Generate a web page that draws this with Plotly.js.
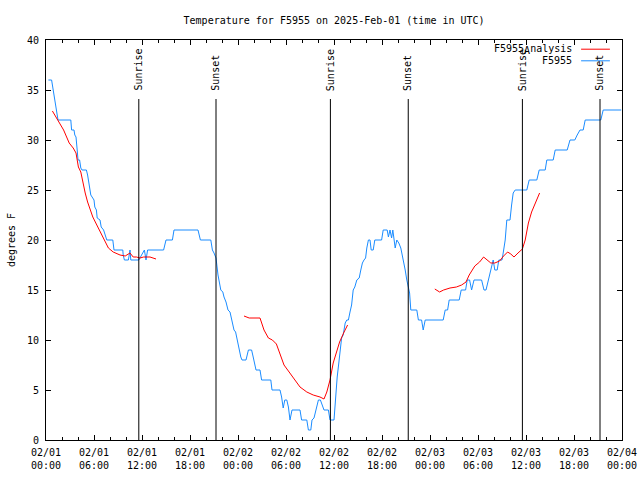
<!DOCTYPE html>
<html>
<head>
<meta charset="utf-8">
<script src="https://cdn.plot.ly/plotly-3.0.1.min.js"></script>
<style>html,body{margin:0;padding:0;background:#fff;}#chart{width:640px;height:480px;}</style>
</head>
<body>
<div id="chart"></div>
<script>
// Hours since 2025-02-01 00:00 UTC
const stationHours = [0.3,0.7,1.5,3.1,3.2,3.5,3.6,3.75,3.9,4.0,4.2,4.35,4.5,5.05,5.2,5.4,5.5,5.6,5.8,6.0,6.1,6.3,6.4,6.75,6.9,7.2,7.4,7.6,8.35,8.5,9.6,9.65,9.8,10.3,10.5,10.6,11.6,11.9,12.3,12.5,12.7,14.7,15.0,15.8,16.0,19.0,19.3,20.6,20.8,21.0,21.25,
21.5,21.75,21.85,22.1,22.25,22.5,22.75,23.0,23.25,23.5,23.7,23.9,24.15,24.35,24.5,25.0,25.3,25.7,25.9,26.1,26.25,26.75,26.95,28.1,28.25,29.25,29.45,29.65,29.85,30.1,30.3,30.5,30.6,30.75,31.75,31.95,32.6,32.8,33.1,33.25,33.5,33.75,34.05,34.3,34.75,35.3,35.5,36.0,36.2,36.4,36.6,36.75,36.95,37.15,37.4,37.6,37.8,38.0,38.2,38.4,38.6,38.85,39.15,39.35,39.55,39.75,39.95,40.1,40.3,40.5,40.65,40.9,41.1,41.95,42.15,42.65,42.8,43.0,43.2,43.35,43.5,43.65,43.85,44.1,44.35,44.6,44.9,45.1,45.3,45.45,45.6,46.35,46.55,46.95,47.15,47.4,49.65,49.9,50.2,50.4,51.65,51.9,52.45,52.65,52.95,53.2,53.5,54.45,54.75,55.0,55.3,55.6,55.9,56.1,56.4,56.6,57.0,57.15,57.4,57.6,58.0,58.2,58.4,58.65,60.1,60.4,61.35,61.65,62.4,62.6,63.4,63.65,65.15,65.5,66.1,66.4,66.75,67.15,67.4,69.35,69.65,71.9];
const stationTemps = [36,36,32,32,31,31,30.5,30.3,29,28,28,27.2,27,27,26.5,25.7,25,24.5,24.2,24,23.3,23,22.2,22,21.3,21,20.5,20,20,19,19,18.5,18,18,19,18,18,18.5,19,18,19,19,20,20,21,21,20,20,19,18.7,18.2,
16.5,15.5,15,14.8,14.3,13.8,13,12.8,11.7,11,10.8,10,9.2,8.3,8,8,9,9,8.3,7.3,7,7,6,6,5,5,4.3,3.2,4,4,3.3,2,2.5,3,3,2,2,1,1,2,2.2,3,4,4,3,3,2,2,4.5,6.3,7.7,8.8,10.2,10.5,11.7,12,12,12.8,13.5,15,15.3,16,16.2,17,17.7,18,18.2,19.2,20,20,19,19,20,20,21,21,20.3,21,20.2,21,20,19.2,20,19.7,19.2,18.3,17,16,15.3,14.7,13,13,12,12,11,12,12,13,13,14,14,15,15,16,16,15,16,16,15,15,16,17,18,17,17,18,18,18.7,20,22,22,23.5,24.7,25,25,26,26,27,27,28,28,29,29,30,30,30.5,31,31,32,32,33,33];

const analysisHours = [0.8,1.5,2.2,2.9,3.4,3.75,4.05,4.35,4.6,4.9,5.2,5.5,5.85,6.35,6.95,7.4,7.8,8.4,9.25,9.9,10.5,10.9,11.3,11.75,12.2,13.0,13.75,
13.76,
24.75,25.4,26.75,27.25,27.8,28.3,28.8,29.25,29.75,30.3,30.9,31.75,32.6,33.4,34.25,34.75,35.1,35.5,35.9,36.25,36.7,37.2,37.7,
37.71,
48.6,49.2,49.7,50.5,51.3,51.95,52.5,52.9,53.6,54.2,54.7,55.1,55.6,56.1,56.7,57.2,57.7,58.1,58.5,59.0,59.55,59.9,60.3,60.7,61.25,61.7];
const analysisTemps = [32.9,32,31,29.7,29.2,28.7,27.3,26.8,25.7,24.7,23.8,23,22.3,21.5,20.5,19.8,19.2,18.8,18.5,18.4,18.7,18.3,18.3,18.2,18.3,18.3,18.1,
null,
12.4,12.2,12.2,11,10.2,10,9.6,8.7,7.5,6.9,6.2,5.3,4.8,4.5,4.3,4.1,4.8,6,7.7,8.7,9.8,10.7,11.5,
null,
15.1,14.8,15,15.2,15.3,15.5,15.8,16.5,17.4,17.8,18.3,18,17.7,17.7,17.9,18.4,18.8,18.6,18.3,18.7,19.1,20,21.7,22.8,23.8,24.7];

const sunriseHours = [11.6, 35.55, 59.55];
const sunsetHours = [21.25, 45.28, 69.25];
const seriesNames = ["F5955<sub><span style='font-size:10px'>A</span></sub>nalysis", "F5955"];
const seriesColors = ["#ff0000", "#1a8cff"];

const base = Date.UTC(2025, 1, 1, 0, 0, 0);
const toDate = h => (h === null ? null : base + h * 3600e3);

const FONT = "DejaVu Sans Mono, Liberation Mono, monospace";

const traces = [
  {x: stationHours.map(toDate), y: stationTemps, type: "scatter", mode: "lines",
   line: {color: seriesColors[1], width: 1}, name: "F5955", hoverinfo: "skip"},
  {x: analysisHours.map(toDate), y: analysisTemps, type: "scatter", mode: "lines",
   line: {color: seriesColors[0], width: 1}, name: "F5955_Analysis", connectgaps: false, hoverinfo: "skip"}
];

const shapes = [];
const annotations = [];
const lineTop = 0.8525;
sunriseHours.forEach(h => {
  shapes.push({type: "line", xref: "x", yref: "paper", x0: toDate(h), x1: toDate(h), y0: 0, y1: lineTop,
    line: {color: "#000", width: 1}});
  annotations.push({xref: "x", yref: "paper", x: toDate(h), y: 0.868, text: "Sunrise", textangle: -90,
    showarrow: false, xanchor: "center", yanchor: "bottom", font: {family: FONT, size: 10, color: "#000"}});
});
sunsetHours.forEach(h => {
  shapes.push({type: "line", xref: "x", yref: "paper", x0: toDate(h), x1: toDate(h), y0: 0, y1: lineTop,
    line: {color: "#000", width: 1}});
  annotations.push({xref: "x", yref: "paper", x: toDate(h), y: 0.868, text: "Sunset", textangle: -90,
    showarrow: false, xanchor: "center", yanchor: "bottom", font: {family: FONT, size: 10, color: "#000"}});
});

// manual gnuplot-style key: text right-aligned, sample to the right
const keyRows = [0.977, 0.948];
seriesNames.forEach((nm, i) => {
  annotations.push({xref: "paper", yref: "paper", x: 0.9167, y: keyRows[i], text: nm, showarrow: false,
    xanchor: "right", yanchor: "middle", font: {family: FONT, size: 10, color: "#000"}});
  shapes.push({type: "line", xref: "paper", yref: "paper", x0: 0.929, x1: 0.979, y0: keyRows[i], y1: keyRows[i],
    line: {color: seriesColors[i], width: 1}});
});

const layout = {
  width: 640, height: 480,
  margin: {l: 46, r: 18, t: 40, b: 40},
  paper_bgcolor: "#fff", plot_bgcolor: "#fff",
  showlegend: false,
  font: {family: FONT, size: 10, color: "#000"},
  title: {text: "Temperature for F5955 on 2025-Feb-01 (time in UTC)", x: 0.522, xanchor: "center",
    y: 0.958, yanchor: "middle", font: {family: FONT, size: 10, color: "#000"}},
  xaxis: {
    type: "date", range: [base, base + 72 * 3600e3],
    tickmode: "linear", tick0: base, dtick: 6 * 3600e3, tickformat: "%m/%d<br>%H:%M",
    ticks: "inside", ticklen: 5, tickcolor: "#000", tickwidth: 1, ticklabelstandoff: 3,
    minor: {ticks: "inside", ticklen: 3, dtick: 2 * 3600e3, tickcolor: "#000", showgrid: false},
    showline: true, linecolor: "#000", linewidth: 1, mirror: "ticks",
    showgrid: false, zeroline: false, tickfont: {family: FONT, size: 10, color: "#000"}
  },
  yaxis: {
    range: [0, 40], tickmode: "linear", tick0: 0, dtick: 5,
    ticks: "inside", ticklen: 5, tickcolor: "#000", tickwidth: 1, ticklabelstandoff: 4,
    showline: true, linecolor: "#000", linewidth: 1, mirror: "ticks",
    showgrid: false, zeroline: false, tickfont: {family: FONT, size: 10, color: "#000"},
    title: {text: "degrees F", standoff: 9, font: {family: FONT, size: 10, color: "#000"}}
  },
  shapes: shapes,
  annotations: annotations
};

Plotly.newPlot("chart", traces, layout, {displayModeBar: false, staticPlot: true});
</script>
</body>
</html>
